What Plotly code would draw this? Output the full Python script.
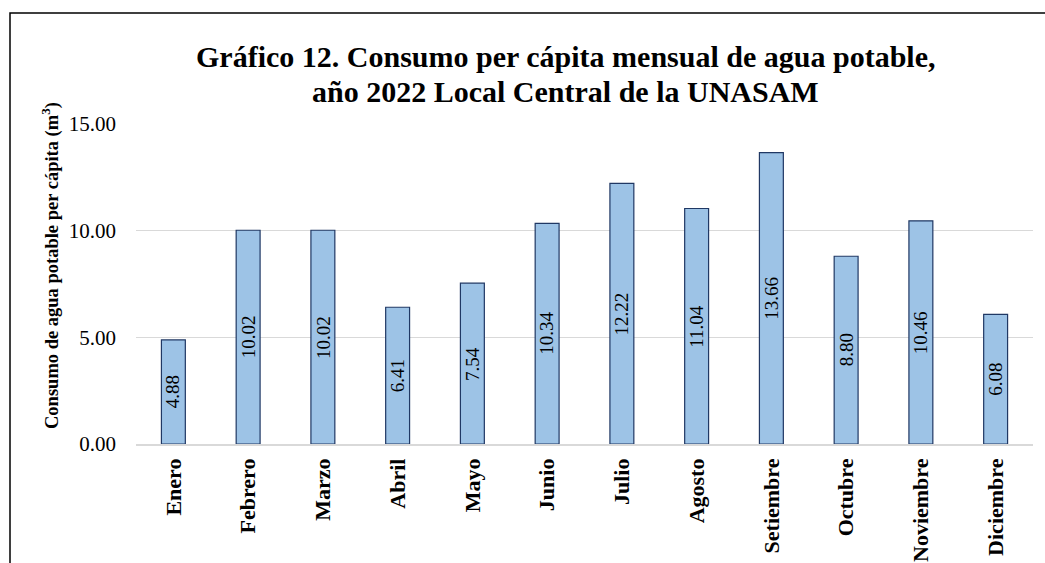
import plotly.graph_objects as go

months = ["Enero", "Febrero", "Marzo", "Abril", "Mayo", "Junio", "Julio",
          "Agosto", "Setiembre", "Octubre", "Noviembre", "Diciembre"]
values = [4.88, 10.02, 10.02, 6.41, 7.54, 10.34, 12.22, 11.04, 13.66, 8.80, 10.46, 6.08]
ytick_vals = [0, 5, 10, 15]
ytick_text = ["0.00", "5.00", "10.00", "15.00"]
title_lines = ["Gráfico 12. Consumo per cápita mensual de agua potable,",
               "año 2022 Local Central de la UNASAM"]
y_title = "Consumo de agua potable per cápita (m<sup>3</sup>)"

FONT = "Liberation Serif"

fig = go.Figure(go.Bar(
    x=months, y=values,
    marker=dict(color="#9DC3E6", line=dict(color="#203864", width=1.2)),
))

# value labels centred inside each bar, rotated
label_annotations = [
    dict(x=m, y=v / 2, xref="x", yref="y", text=f"{v:.2f}", textangle=-90,
         showarrow=False, xanchor="center", yanchor="middle",
         font=dict(family=FONT, size=19, color="black"))
    for m, v in zip(months, values)
]

fig.update_layout(
    width=1045, height=563,
    paper_bgcolor="white", plot_bgcolor="white",
    margin=dict(l=136, r=12, t=124, b=119, autoexpand=False),
    bargap=0.68,
    showlegend=False,
    font=dict(family=FONT, color="black"),
    xaxis=dict(
        tickangle=-90, showgrid=False, showline=True, linecolor="#D9D9D9", linewidth=1.5,
        ticks="", ticklabelstandoff=4, automargin=False,
        tickfont=dict(family=FONT, size=22, color="black", weight="bold"),
    ),
    yaxis=dict(
        range=[0, 15], tickvals=ytick_vals, ticktext=ytick_text,
        showgrid=True, gridcolor="#D9D9D9", gridwidth=1.3, zeroline=False,
        ticks="", ticklabelstandoff=19, automargin=False,
        tickfont=dict(family=FONT, size=21, color="black"),
    ),
    annotations=label_annotations + [
        dict(text=title_lines[0], xref="paper", yref="paper",
             x=0.479, y=(444 - 57) / 320, xanchor="center", yanchor="middle",
             showarrow=False, font=dict(family=FONT, size=30, color="black", weight="bold")),
        dict(text=title_lines[1], xref="paper", yref="paper",
             x=0.479, y=(444 - 92) / 320, xanchor="center", yanchor="middle",
             showarrow=False, font=dict(family=FONT, size=30, color="black", weight="bold")),
        dict(text=y_title, xref="paper", yref="paper", textangle=-90,
             x=(50 - 136) / 897, y=(444 - 266) / 320, xanchor="center", yanchor="middle",
             showarrow=False, font=dict(family=FONT, size=18.5, color="black", weight="bold")),
    ],
    shapes=[dict(type="rect", xref="paper", yref="paper",
                 x0=(10 - 136) / 897, x1=1.1, y0=-0.8, y1=(444 - 13) / 320,
                 line=dict(color="black", width=1.5))],
)

fig.write_html("out.html")
